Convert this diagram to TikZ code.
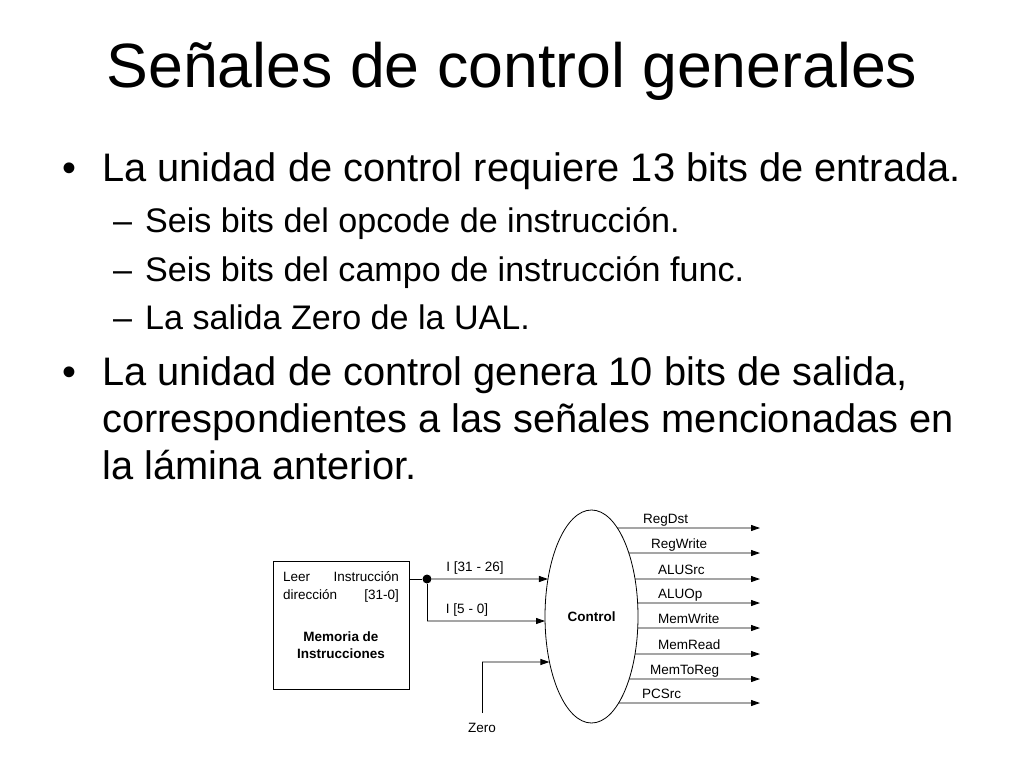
\documentclass[tikz,border=0pt]{standalone}
\usepackage{fontspec}
\setmainfont{Liberation Sans}
\usetikzlibrary{arrows.meta,shapes.geometric,intersections}

\begin{document}
\begin{tikzpicture}[x=1pt,y=-1pt,
		sig/.style={line width=0.9pt,-{Triangle[length=9pt,width=6pt]}},
		wire/.style={line width=0.9pt},
		lbl/.style={inner sep=0pt,font=\fontsize{13.5}{17}\selectfont},
		big/.style={anchor=base west,inner sep=0pt,font=\fontsize{39.8}{46}\selectfont},
		small/.style={anchor=base west,inner sep=0pt,font=\fontsize{34.1}{40}\selectfont}]
		\useasboundingbox (0,0) rectangle (1024,768);

		% titulo y vinetas
		\node[anchor=base,inner sep=0pt,font=\fontsize{62.6}{70}\selectfont] (titulo) at (512,87) {Señales de control generales};
		\node[big] (p1) at (62,181) {•};
		\node[big] (t1) at (102,181) {La unidad de control requiere 13 bits de entrada.};
		\node[small] (g1) at (113,232) {–};
		\node[small] (s1) at (145,232) {Seis bits del opcode de instrucción.};
		\node[small] (g2) at (113,281) {–};
		\node[small] (s2) at (145,281) {Seis bits del campo de instrucción func.};
		\node[small] (g3) at (113,329) {–};
		\node[small] (s3) at (145,329) {La salida Zero de la UAL.};
		\node[big] (p2) at (62,385) {•};
		\node[big] (t2) at (102,385) {La unidad de control genera 10 bits de salida,};
		\node[big] (t3) at (102,432) {correspondientes a las señales mencionadas en};
		\node[big] (t4) at (102,479) {la lámina anterior.};

		% memoria
		\node[draw,line width=0.8pt,minimum width=136,minimum height=128,inner sep=0pt] (mem) at (341,625) {};
		\node[lbl,anchor=base west] (leer) at (283,581) {Leer};
		\node[lbl,anchor=base east] (instr) at (399,581) {Instrucción};
		\node[lbl,anchor=base west] (dir) at (283,599) {dirección};
		\node[lbl,anchor=base east] (bits) at (399,599) {[31-0]};
		\node[lbl,align=center,font=\fontsize{13.5}{17}\selectfont\bfseries] (nom) at (341,645) {Memoria de\\Instrucciones};

		% control
		\node[ellipse,draw,line width=0.8pt,minimum width=93,minimum height=213,inner sep=0pt,
			name path=ctlb,font=\fontsize{13.5}{17}\selectfont\bfseries] (ctl) at (591.5,616.5) {Control};

		% entradas
		\node[circle,fill,inner sep=0pt,minimum size=9] (jn) at (427,579) {};
		\coordinate (kn) at (427,621);
		\coordinate (zk) at (482,662);
		\node[lbl] (zero) at (482,728) {Zero};
		\draw[wire] (mem.east |- jn) -- (jn);
		\draw[wire] (jn) -- (kn);
		\draw[wire,shorten <=10] (zero.north) -- (zk);
		\foreach \a/\n in {jn/1,kn/2,zk/3} {
			\path[name path=in\n] (\a) -- ++(200,0);
			\draw[sig,name intersections={of=ctlb and in\n}] (\a) -- (intersection-1);
		}
		\node[lbl] (op) at (475,568) {I [31 - 26]};
		\node[lbl] (fn) at (467,610) {I [5 - 0]};

		% salidas
		\foreach \y/\lx/\nom [count=\i] in {528/643/RegDst,553/651/RegWrite,579/658/ALUSrc,603/658/ALUOp,
			628/658/MemWrite,654/658/MemRead,679/650/MemToReg,703/642/PCSrc} {
			\coordinate (out\i) at (760,\y);
			\path[name path=ray\i] (ctl.center |- out\i) -- (out\i);
			\draw[sig,name intersections={of=ctlb and ray\i}] (intersection-1) -- (out\i);
			\node[lbl,anchor=base west] (s\i) at (\lx,\y-5) {\nom};
		}
	\end{tikzpicture}
\end{document}
